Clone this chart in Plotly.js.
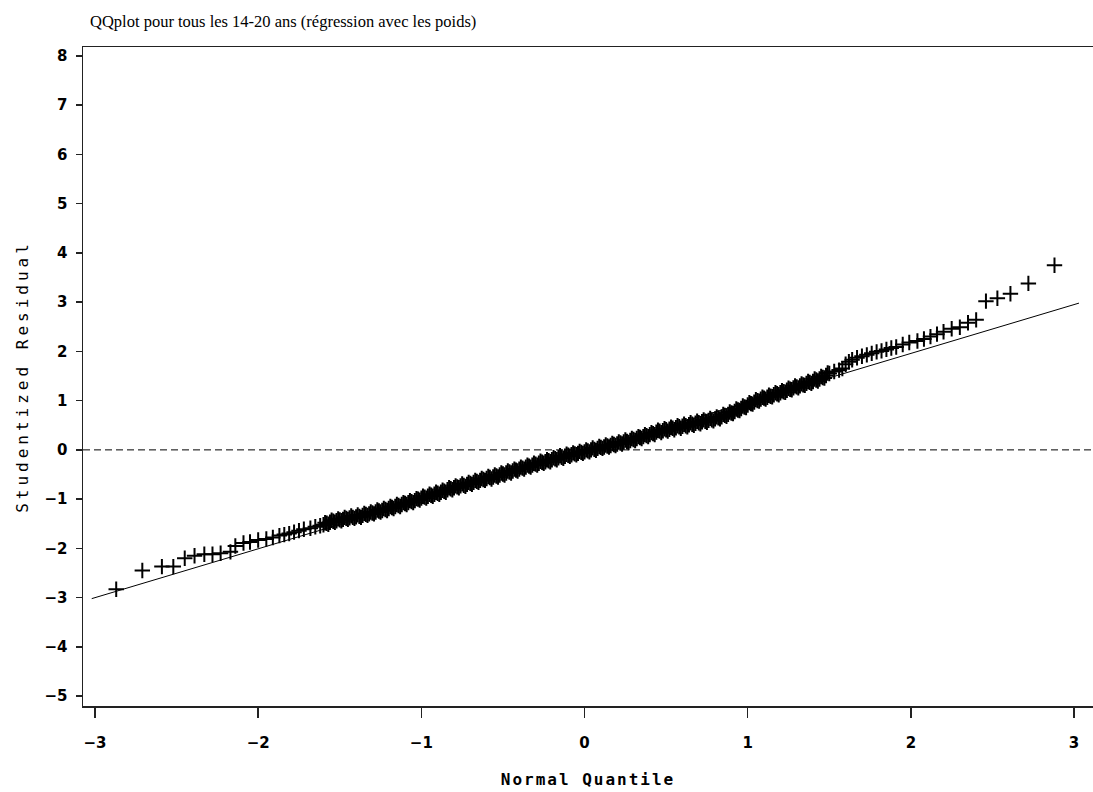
<!DOCTYPE html>
<html>
<head>
<meta charset="utf-8">
<script src="https://cdn.plot.ly/plotly-3.0.1.min.js"></script>
<style>html,body{margin:0;padding:0;background:#fff;}#chart{width:1093px;height:792px;}</style>
</head>
<body>
<div id="chart"></div>
<script>
// Normal quantiles (x) and studentized residuals (y)
const xLow = [-2.87,-2.71,-2.59,-2.52,-2.45,-2.39,-2.33,-2.28,-2.23,-2.17,-2.14,-2.09,-2.05,-2.00,-1.95,-1.91,-1.87,-1.84,-1.81,-1.78,-1.75,-1.72,-1.68,-1.65,-1.62];
const yLow = [-2.83,-2.45,-2.37,-2.37,-2.20,-2.15,-2.12,-2.12,-2.10,-2.07,-1.95,-1.89,-1.87,-1.83,-1.81,-1.78,-1.74,-1.72,-1.70,-1.67,-1.64,-1.61,-1.59,-1.56,-1.54];

// dense central band (centre of the cloud)
const xMid = [-1.60,-1.58,-1.56,-1.54,-1.52,-1.50,-1.48,-1.46,-1.44,-1.42,-1.40,-1.38,-1.36,-1.34,-1.32,-1.30,-1.28,-1.26,-1.24,-1.22,-1.20,-1.18,-1.16,-1.14,-1.12,-1.10,-1.08,-1.06,-1.04,-1.02,-1.00,-0.98,-0.96,-0.94,-0.92,-0.90,-0.88,-0.86,-0.84,-0.82,-0.80,-0.78,-0.76,-0.74,-0.72,-0.70,-0.68,-0.66,-0.64,-0.62,-0.60,-0.58,-0.56,-0.54,-0.52,-0.50,-0.48,-0.46,-0.44,-0.42,-0.40,-0.38,-0.36,-0.34,-0.32,-0.30,-0.28,-0.26,-0.24,-0.22,-0.20,-0.18,-0.16,-0.14,-0.12,-0.10,-0.08,-0.06,-0.04,-0.02,0.00,0.02,0.04,0.06,0.08,0.10,0.12,0.14,0.16,0.18,0.20,0.22,0.24,0.26,0.28,0.30,0.32,0.34,0.36,0.38,0.40,0.42,0.44,0.46,0.48,0.50,0.52,0.54,0.56,0.58,0.60,0.62,0.64,0.66,0.68,0.70,0.72,0.74,0.76,0.78,0.80,0.82,0.84,0.86,0.88,0.90,0.92,0.94,0.96,0.98,1.00,1.02,1.04,1.06,1.08,1.10,1.12,1.14,1.16,1.18,1.20,1.22,1.24,1.26,1.28,1.30,1.32,1.34,1.36,1.38,1.40,1.42,1.44,1.46,1.48,1.50];
const yMid = [-1.52,-1.49,-1.47,-1.45,-1.44,-1.42,-1.41,-1.39,-1.38,-1.37,-1.36,-1.35,-1.33,-1.31,-1.30,-1.28,-1.26,-1.24,-1.23,-1.21,-1.19,-1.17,-1.15,-1.13,-1.11,-1.09,-1.07,-1.05,-1.03,-1.00,-0.98,-0.96,-0.94,-0.92,-0.90,-0.88,-0.86,-0.84,-0.81,-0.79,-0.77,-0.75,-0.73,-0.72,-0.70,-0.68,-0.66,-0.64,-0.62,-0.60,-0.58,-0.56,-0.55,-0.53,-0.51,-0.49,-0.47,-0.45,-0.43,-0.41,-0.39,-0.37,-0.35,-0.33,-0.31,-0.29,-0.27,-0.25,-0.24,-0.22,-0.20,-0.18,-0.16,-0.15,-0.13,-0.11,-0.10,-0.08,-0.07,-0.05,-0.04,-0.02,0.00,0.01,0.03,0.05,0.06,0.08,0.09,0.11,0.12,0.14,0.16,0.17,0.19,0.21,0.23,0.25,0.27,0.29,0.31,0.33,0.36,0.38,0.39,0.41,0.42,0.44,0.45,0.47,0.48,0.49,0.51,0.52,0.54,0.55,0.57,0.58,0.60,0.61,0.63,0.65,0.67,0.70,0.72,0.75,0.78,0.81,0.84,0.87,0.91,0.94,0.97,1.00,1.03,1.05,1.07,1.09,1.12,1.14,1.16,1.18,1.21,1.23,1.26,1.28,1.30,1.32,1.35,1.37,1.39,1.42,1.44,1.47,1.51,1.55];

// points on the upper / lower edges of the dense band
const xEdge = [-1.59,-1.57,-1.55,-1.53,-1.51,-1.49,-1.47,-1.45,-1.43,-1.41,-1.39,-1.37,-1.35,-1.33,-1.31,-1.29,-1.27,-1.25,-1.23,-1.21,-1.19,-1.17,-1.15,-1.13,-1.11,-1.09,-1.07,-1.05,-1.03,-1.01,-0.99,-0.97,-0.95,-0.93,-0.91,-0.89,-0.87,-0.85,-0.83,-0.81,-0.79,-0.77,-0.75,-0.73,-0.71,-0.69,-0.67,-0.65,-0.63,-0.61,-0.59,-0.57,-0.55,-0.53,-0.51,-0.49,-0.47,-0.45,-0.43,-0.41,-0.39,-0.37,-0.35,-0.33,-0.31,-0.29,-0.27,-0.25,-0.23,-0.21,-0.19,-0.17,-0.15,-0.13,-0.11,-0.09,-0.07,-0.05,-0.03,-0.01,0.01,0.03,0.05,0.07,0.09,0.11,0.13,0.15,0.17,0.19,0.21,0.23,0.25,0.27,0.29,0.31,0.33,0.35,0.37,0.39,0.41,0.43,0.45,0.47,0.49,0.51,0.53,0.55,0.57,0.59,0.61,0.63,0.65,0.67,0.69,0.71,0.73,0.75,0.77,0.79,0.81,0.83,0.85,0.87,0.89,0.91,0.93,0.95,0.97,0.99,1.01,1.03,1.05,1.07,1.09,1.11,1.13,1.15,1.17,1.19,1.21,1.23,1.25,1.27,1.29,1.31,1.33,1.35,1.37,1.39,1.41,1.43,1.45,1.47,1.49];
const yEdge = [-1.48,-1.51,-1.43,-1.47,-1.40,-1.44,-1.37,-1.41,-1.34,-1.39,-1.32,-1.37,-1.29,-1.33,-1.26,-1.30,-1.22,-1.26,-1.19,-1.23,-1.15,-1.19,-1.11,-1.15,-1.07,-1.11,-1.03,-1.07,-0.99,-1.02,-0.94,-0.98,-0.90,-0.94,-0.86,-0.90,-0.82,-0.86,-0.77,-0.81,-0.73,-0.77,-0.69,-0.74,-0.66,-0.70,-0.62,-0.66,-0.58,-0.62,-0.54,-0.59,-0.51,-0.55,-0.47,-0.51,-0.43,-0.47,-0.39,-0.43,-0.35,-0.39,-0.31,-0.35,-0.27,-0.31,-0.23,-0.27,-0.20,-0.24,-0.16,-0.20,-0.12,-0.17,-0.09,-0.13,-0.06,-0.10,-0.03,-0.07,0.00,-0.04,0.04,-0.01,0.07,0.03,0.10,0.06,0.13,0.09,0.16,0.12,0.20,0.15,0.23,0.19,0.27,0.23,0.31,0.27,0.35,0.31,0.40,0.35,0.43,0.38,0.46,0.41,0.49,0.44,0.52,0.47,0.55,0.50,0.58,0.53,0.61,0.56,0.64,0.59,0.67,0.63,0.72,0.68,0.77,0.74,0.83,0.80,0.89,0.86,0.96,0.93,1.02,0.99,1.07,1.03,1.11,1.08,1.16,1.12,1.20,1.17,1.25,1.22,1.30,1.26,1.34,1.31,1.39,1.35,1.44,1.40,1.49,1.46,1.56];

const xHigh = [1.53,1.56,1.58,1.60,1.62,1.64,1.67,1.70,1.73,1.76,1.79,1.82,1.85,1.88,1.91,1.95,1.99,2.04,2.08,2.12,2.16,2.20,2.25,2.30,2.35,2.40,2.46,2.53,2.61,2.72,2.88];
const yHigh = [1.59,1.62,1.65,1.74,1.79,1.83,1.87,1.90,1.93,1.96,1.99,2.01,2.04,2.07,2.09,2.14,2.18,2.21,2.25,2.30,2.35,2.40,2.46,2.49,2.58,2.64,3.02,3.08,3.17,3.38,3.75];

// Reference line (normal fit) end points
const refX = [-3.02, 3.03];
const refY = [-3.02, 2.98];

const xTicks = [-3,-2,-1,0,1,2,3];
const yTicks = [-5,-4,-3,-2,-1,0,1,2,3,4,5,6,7,8];

const titleText = 'QQplot pour tous les 14-20 ans (régression avec les poids)';
const xTitle = 'Normal Quantile';
const yTitle = 'Studentized Residual';

const xs = xLow.concat(xMid, xEdge, xHigh);
const ys = yLow.concat(yMid, yEdge, yHigh);

const axisColor = '#222';
const tickFont = {family: 'DejaVu Sans, Liberation Sans, sans-serif', size: 15, color: '#000', weight: 'bold'};

const traces = [
  {
    x: refX, y: refY, type: 'scatter', mode: 'lines',
    line: {color: '#000', width: 1}, hoverinfo: 'skip', showlegend: false
  },
  {
    x: xs, y: ys, type: 'scatter', mode: 'markers',
    marker: {symbol: 'cross-thin-open', size: 11, color: '#000', line: {color: '#000', width: 2}},
    showlegend: false
  }
];

const layout = {
  width: 1093, height: 792,
  margin: {l: 83, r: 0, t: 47, b: 86, pad: 0},
  paper_bgcolor: '#fff', plot_bgcolor: '#fff',
  showlegend: false,
  title: {
    text: titleText,
    font: {family: 'Liberation Serif, Times New Roman, serif', size: 16.5, color: '#000'},
    x: 90/1093, xref: 'container', xanchor: 'left',
    y: 1 - 21/792, yref: 'container', yanchor: 'middle'
  },
  xaxis: {
    range: [-3.0735, 3.116],
    tickvals: xTicks,
    ticks: 'outside', ticklen: 10, tickwidth: 1.5, tickcolor: axisColor,
    ticklabelstandoff: 12,
    showline: true, linecolor: axisColor, linewidth: 1.5, mirror: true,
    showgrid: false, zeroline: false,
    tickfont: tickFont,
    title: {text: xTitle, standoff: 23, font: {family: 'DejaVu Sans Mono, monospace', size: 16, color: '#000', weight: 'bold'}}
  },
  yaxis: {
    range: [-5.2, 8.18],
    tickvals: yTicks,
    ticks: 'outside', ticklen: 6, tickwidth: 1.5, tickcolor: axisColor,
    ticklabelstandoff: 5,
    showline: true, linecolor: axisColor, linewidth: 1.5, mirror: false,
    showgrid: false, zeroline: false,
    tickfont: tickFont,
    title: {text: yTitle, standoff: 12, font: {family: 'DejaVu Sans Mono, monospace', size: 16, color: '#000'}}
  },
  shapes: [
    {type: 'line', xref: 'paper', x0: 0, x1: 1, yref: 'y', y0: 0, y1: 0,
     line: {color: '#000', width: 1, dash: '7px,4px'}}
  ]
};

Plotly.newPlot('chart', traces, layout, {displayModeBar: false, staticPlot: true}).then(function () {
  document.querySelectorAll('.xtitle').forEach(function (t) { t.style.letterSpacing = '2px'; });
  document.querySelectorAll('.ytitle').forEach(function (t) { t.style.letterSpacing = '4px'; });
});
</script>
</body>
</html>
